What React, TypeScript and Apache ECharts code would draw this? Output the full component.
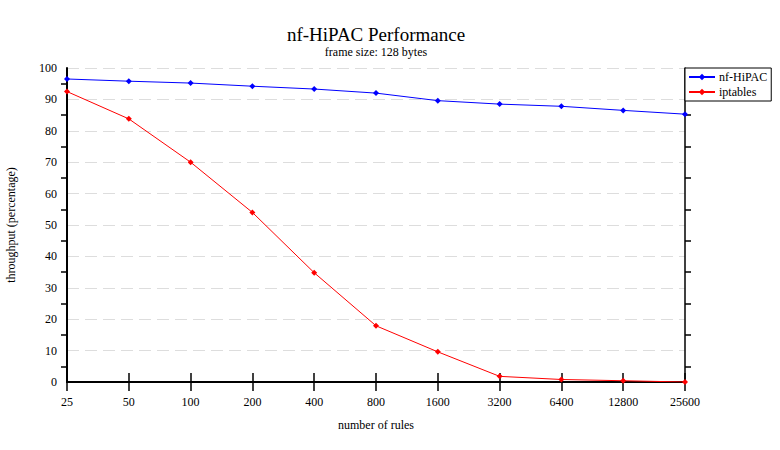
import React, { useEffect, useRef } from "react";
import * as echarts from "echarts";

const categories = ["25", "50", "100", "200", "400", "800", "1600", "3200", "6400", "12800", "25600"];
const hipac = [96.5, 95.8, 95.2, 94.2, 93.3, 92.0, 89.6, 88.5, 87.8, 86.5, 85.3];
const iptables = [92.5, 83.8, 70.0, 54.0, 34.8, 17.9, 9.6, 1.8, 0.8, 0.4, 0.0];
const titleText = "nf-HiPAC Performance";
const subtitleText = "frame size: 128 bytes";
const xName = "number of rules";
const yName = "throughput (percentage)";

const FONT = "Liberation Serif";

export default function App() {
  const ref = useRef<HTMLDivElement>(null);
  useEffect(() => {
    if (!ref.current) return;
    const chart = echarts.init(ref.current, undefined, { renderer: "svg" });
    chart.setOption({
      animation: false,
      backgroundColor: "#ffffff",
      textStyle: { fontFamily: FONT },
      title: [
        {
          text: titleText,
          left: 376,
          textAlign: "center",
          top: 25,
          padding: 0,
          textStyle: { fontFamily: FONT, fontSize: 19, fontWeight: "normal", color: "#000", lineHeight: 19 },
        },
        {
          text: subtitleText,
          left: 376,
          textAlign: "center",
          top: 46,
          padding: 0,
          textStyle: { fontFamily: FONT, fontSize: 12, fontWeight: "normal", color: "#000", lineHeight: 12 },
        },
      ],
      legend: {
        orient: "vertical",
        left: 685,
        top: 68,
        backgroundColor: "#fff",
        borderColor: "#000",
        borderWidth: 1,
        borderRadius: 0,
        padding: [3, 4, 3, 3],
        itemGap: 3,
        itemWidth: 26,
        itemHeight: 8,
        textStyle: { fontFamily: FONT, fontSize: 12, color: "#000", padding: [0, 0, 0, -1] },
        data: ["nf-HiPAC", "iptables"],
      },
      grid: { left: 67, right: 95, top: 68, bottom: 68, containLabel: false, outerBoundsMode: "none" },
      xAxis: [
        {
          type: "category",
          data: categories,
          boundaryGap: false,
          position: "bottom",
          name: xName,
          nameLocation: "middle",
          nameGap: 37,
          nameTextStyle: { fontFamily: FONT, fontSize: 12, color: "#000" },
          axisLine: { lineStyle: { color: "#000", width: 2 } },
          axisTick: { show: true, inside: true, length: 9, lineStyle: { color: "#000", width: 1.5 } },
          axisLabel: { fontFamily: FONT, fontSize: 12, color: "#000", margin: 14 },
          splitLine: { show: false },
        },
        {
          type: "category",
          data: categories,
          boundaryGap: false,
          position: "top",
          axisLine: { lineStyle: { color: "#000", width: 2 } },
          axisTick: { show: true, inside: true, length: 9, lineStyle: { color: "#000", width: 1.5 } },
          axisLabel: { show: false },
          splitLine: { show: false },
        },
      ],
      yAxis: [
        {
          type: "value",
          min: 0,
          max: 100,
          interval: 10,
          position: "left",
          name: yName,
          nameLocation: "middle",
          nameGap: 50,
          nameRotate: 90,
          nameTextStyle: { fontFamily: FONT, fontSize: 12, color: "#000" },
          axisLine: { show: true, lineStyle: { color: "#000", width: 2 } },
          axisTick: { show: false },
          minorTick: { show: true, splitNumber: 2, length: 6, lineStyle: { color: "#000", width: 1.5 } },
          axisLabel: { fontFamily: FONT, fontSize: 12, color: "#000", margin: 10 },
          splitLine: { show: true, lineStyle: { color: "#dddddd", type: [12, 6], width: 1 } },
        },
        {
          type: "value",
          min: 0,
          max: 100,
          interval: 10,
          position: "right",
          axisLine: { show: true, lineStyle: { color: "#000", width: 1.5 } },
          axisTick: { show: false },
          minorTick: { show: true, splitNumber: 2, length: 6, lineStyle: { color: "#000", width: 1.5 } },
          axisLabel: { show: false },
          splitLine: { show: false },
        },
      ],
      series: [
        {
          name: "nf-HiPAC",
          type: "line",
          data: hipac,
          xAxisIndex: 0,
          yAxisIndex: 0,
          symbol: "diamond",
          symbolSize: 6,
          color: "#0000ff",
          lineStyle: { color: "#0000ff", width: 1 },
          itemStyle: { color: "#0000ff" },
          z: 3,
        },
        {
          name: "iptables",
          type: "line",
          data: iptables,
          xAxisIndex: 0,
          yAxisIndex: 0,
          symbol: "diamond",
          symbolSize: 6,
          color: "#ff0000",
          lineStyle: { color: "#ff0000", width: 1 },
          itemStyle: { color: "#ff0000" },
          z: 3,
        },
      ],
    });
    return () => chart.dispose();
  }, []);
  return (
    <div
      ref={ref}
      style={{ position: "fixed", left: 0, top: 0, width: 780, height: 450, background: "#fff" }}
    />
  );
}
